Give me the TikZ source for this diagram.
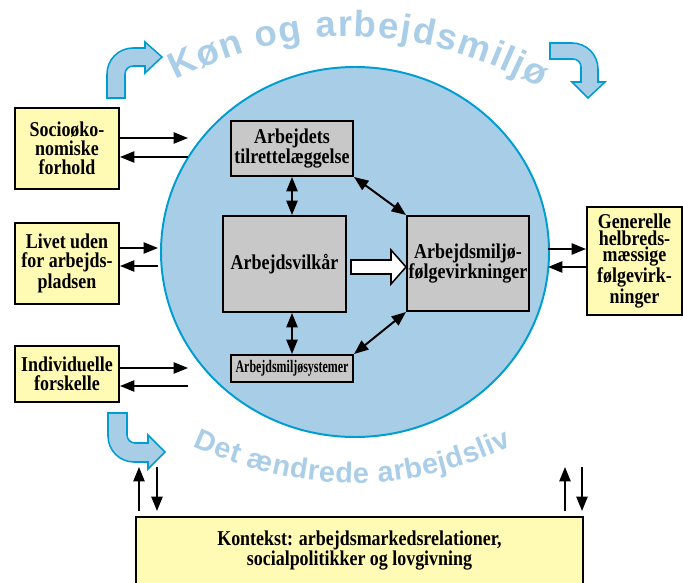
\documentclass[tikz,border=0pt]{standalone}
\usepackage{fontspec}
\newfontfamily\boxfont{Liberation Serif}[FakeStretch=0.85]
\newfontfamily\slimfont{Liberation Serif}[FakeStretch=0.68]
\newfontfamily\arcfont{Liberation Sans Bold}
\usetikzlibrary{arrows.meta,decorations.text}

\definecolor{envblue}{RGB}{168,206,231}
\definecolor{edgeblue}{RGB}{0,157,210}
\definecolor{boxyellow}{RGB}{255,250,180}
\definecolor{boxgray}{RGB}{200,200,200}
\definecolor{arcblue}{RGB}{170,205,232}

\tikzset{
  factor/.style={draw, line width=1.4pt, fill=boxyellow, align=center, inner sep=0pt,
    font=\boxfont\bfseries\fontsize{15}{13.5}\selectfont},
  part/.style={factor, fill=boxgray, font=\boxfont\bfseries\fontsize{15}{14}\selectfont},
  link/.style={line width=1.4pt},
  turn/.style={fill=envblue, draw=edgeblue, line width=1.1pt},
  fat/.style={fill=white, draw, line width=1.1pt},
}

\begin{document}
\begin{tikzpicture}[x=0.025cm,y=-0.025cm,>={Triangle[length=0.36cm,width=0.28cm]}]
          \useasboundingbox (0,0) rectangle (683,583);

          \draw [fill=envblue,draw=edgeblue,line width=1.4pt] (355,252) ellipse [x radius=194, y radius=185];

          \path [decorate,decoration={text along path,text align={fit to path},text color=arcblue,
            text={|\arcfont\fontsize{26}{26}\selectfont|Køn og arbejdsmiljø}}]
            (176,80) .. controls (296.7,19.3) and (418,22) .. (540,88);
          \path [decorate,decoration={text along path,text align={fit to path},text color=arcblue,
            text={|\arcfont\fontsize{20.5}{20.5}\selectfont|Det ændrede arbejdsliv}}]
            (193,446) .. controls (301.7,495.3) and (408,495.3) .. (512,446);

          \draw [turn] (107,98) -- (107,74) .. controls (107,59.6) and (118.6,48) .. (133,48) -- (145,48)
            -- (145,42) -- (162,57) -- (145,73) -- (145,66) -- (133,66)
            .. controls (128.6,66) and (125,69.6) .. (125,74) -- (125,98) -- cycle;
          \draw [turn] (550,43) -- (572,43) .. controls (586.4,43) and (598,54.6) .. (598,69) -- (598,82)
            -- (605,82) -- (588,98) -- (572,82) -- (581,82) -- (581,67)
            .. controls (581,62.6) and (577.4,59) .. (573,59) -- (550,59) -- cycle;
          \draw [turn] (108,413) -- (108,436) .. controls (108,450.4) and (119.6,462) .. (134,462) -- (148,462)
            -- (148,469) -- (165,452) -- (148,435) -- (148,443) -- (135,443)
            .. controls (130.6,443) and (127,439.4) .. (127,435) -- (127,413) -- cycle;

          \node [factor,minimum width=2.6cm,minimum height=2.025cm] (socio) at (67,148.5) {Socioøko-\\nomiske\\forhold};
          \node [factor,minimum width=2.6cm,minimum height=2.025cm] (livet) at (67,263.5) {Livet uden\\for arbejds-\\pladsen};
          \node [factor,minimum width=2.6cm,minimum height=1.4cm] (indiv) at (67,374) {Individuelle\\forskelle};
          \node [factor,minimum width=2.375cm,minimum height=2.7cm,font=\boxfont\bfseries\fontsize{15}{11.8}\selectfont]
            (helbred) at (634.5,261) {Generelle\\helbreds-\\mæssige\\følgevirk-\\ninger};
          \node [factor,minimum width=11.175cm,minimum height=1.675cm] (kontekst) at (359.5,550.5)
            {Kontekst: arbejdsmarkedsrelationer,\\socialpolitikker og lovgivning};

          \node [part,minimum width=3.05cm,minimum height=1.375cm] (tilrett) at (292,148.5) {Arbejdets\\tilrettelæggelse};
          \node [part,minimum width=3.075cm,minimum height=2.4cm] (vilkar) at (284.5,264) {Arbejdsvilkår};
          \node [part,minimum width=3.05cm,minimum height=2.375cm] (folge) at (468,263.5) {Arbejdsmiljø-\\følgevirkninger};
          \node [part,minimum width=3.05cm,minimum height=0.675cm,font=\slimfont\bfseries\fontsize{12.5}{12.5}\selectfont]
            (system) at (292,368.5) {Arbejdsmiljøsystemer};

          \draw [fat] (vilkar.east) ++(4,-4) -- ++(40,0) -- ++(0,-10) -- ++(15,17) -- ++(-15,17)
            -- ++(0,-10) -- ++(-40,0) -- cycle;

          \draw [link,<->] (tilrett.south) -- (tilrett.south |- vilkar.north);
          \draw [link,<->] (system.north) -- (system.north |- vilkar.south);
          \draw [link,<->] (tilrett.south east) -- (folge.north west);
          \draw [link,<->] (folge.south west) -- (system.north east);

          \coordinate (s1) at (188,138); \coordinate (s2) at (188,157);
          \coordinate (l1) at (158,248); \coordinate (l2) at (158,266);
          \coordinate (i1) at (188,368); \coordinate (i2) at (188,386);
          \coordinate (h1) at (548,249); \coordinate (h2) at (548,267);
          \coordinate (k1) at (139,467); \coordinate (k2) at (157,467);
          \coordinate (k3) at (565,467); \coordinate (k4) at (582,467);

          \draw [link,->] (socio.east |- s1) -- (s1);
          \draw [link,->] (s2) -- (socio.east |- s2);
          \draw [link,->] (livet.east |- l1) -- (l1);
          \draw [link,->] (l2) -- (livet.east |- l2);
          \draw [link,->] (indiv.east |- i1) -- (i1);
          \draw [link,->] (i2) -- (indiv.east |- i2);
          \draw [link,->] (h1) -- (helbred.west |- h1);
          \draw [link,->] (helbred.west |- h2) -- (h2);

          \draw [link,->,shorten <=0.125cm] (kontekst.north -| k1) -- (k1);
          \draw [link,->,shorten >=0.125cm] (k2) -- (kontekst.north -| k2);
          \draw [link,->,shorten <=0.125cm] (kontekst.north -| k3) -- (k3);
          \draw [link,->,shorten >=0.125cm] (k4) -- (kontekst.north -| k4);
        \end{tikzpicture}
\end{document}
